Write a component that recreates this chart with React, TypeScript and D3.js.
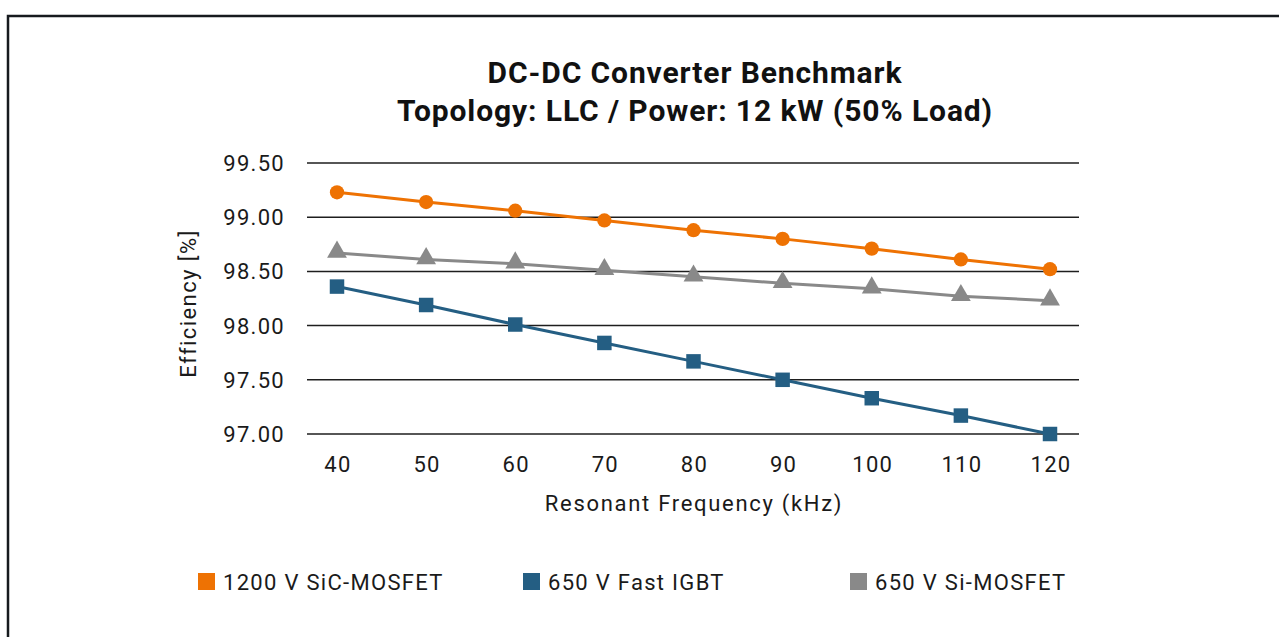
import { useEffect, useRef } from 'react'
import * as d3 from 'd3'

const W = 1279, H = 637
const FONT = 'Roboto, "Noto Sans", sans-serif'

const freqs = [40, 50, 60, 70, 80, 90, 100, 110, 120]
const sicMosfet = [99.23, 99.14, 99.06, 98.97, 98.88, 98.80, 98.71, 98.61, 98.52]
const fastIgbt = [98.36, 98.19, 98.01, 97.84, 97.67, 97.50, 97.33, 97.17, 97.00]
const siMosfet = [98.67, 98.61, 98.57, 98.51, 98.45, 98.39, 98.34, 98.27, 98.23]
const yTicks = [97.0, 97.5, 98.0, 98.5, 99.0, 99.5]

const titleLines = ['DC-DC Converter Benchmark', 'Topology: LLC / Power: 12 kW (50% Load)']

const series = [
  { name: '1200 V SiC-MOSFET', values: sicMosfet, color: '#ee7203', shape: 'circle' },
  { name: '650 V Fast IGBT', values: fastIgbt, color: '#245e83', shape: 'square' },
  { name: '650 V Si-MOSFET', values: siMosfet, color: '#898989', shape: 'triangle' },
]

export default function App() {
  const svgRef = useRef<SVGSVGElement>(null)

  useEffect(() => {
    const svg = d3.select(svgRef.current!)
    svg.selectAll('*').remove()

    // frame
    svg.append('rect').attr('x', 8).attr('y', 16).attr('width', W).attr('height', H)
      .attr('fill', '#fff').attr('stroke', '#161a1e').attr('stroke-width', 2.5)

    // title
    titleLines.forEach((t, i) => {
      svg.append('text').attr('x', 695).attr('y', 83 + i * 38)
        .attr('text-anchor', 'middle').attr('font-family', FONT)
        .attr('font-weight', 700).attr('font-size', 30).attr('letter-spacing', 0.9)
        .attr('fill', '#111')
        .text(t)
    })

    const gx0 = 307, gx1 = 1079
    const x = d3.scaleLinear().domain([40, 120]).range([337, 1050])
    const y = d3.scaleLinear().domain([97, 99.5]).range([434, 163])

    const txt = (sel: d3.Selection<SVGTextElement, unknown, null, undefined>, ls = 1.3) =>
      sel.attr('font-family', FONT).attr('font-size', 22).attr('letter-spacing', ls)
        .attr('fill', '#1a1a1a')

    // gridlines + y labels
    yTicks.forEach(v => {
      svg.append('line').attr('x1', gx0).attr('x2', gx1)
        .attr('y1', y(v)).attr('y2', y(v))
        .attr('stroke', '#1e1e1e').attr('stroke-width', 1.5)
      txt(svg.append('text').attr('x', 285).attr('y', y(v) + 8)
        .attr('text-anchor', 'end'))
        .text(v.toFixed(2))
    })

    // x labels
    freqs.forEach(f => {
      txt(svg.append('text').attr('x', x(f) + 1).attr('y', 472)
        .attr('text-anchor', 'middle'))
        .text(f)
    })

    // axis titles
    txt(svg.append('text').attr('x', 694).attr('y', 511)
      .attr('text-anchor', 'middle'), 1.7)
      .text('Resonant Frequency (kHz)')
    txt(svg.append('text')
      .attr('transform', `translate(196,${y(98.25) + 5}) rotate(-90)`)
      .attr('text-anchor', 'middle'), 1.4)
      .text('Efficiency [%]')

    const line = d3.line<number>().x((_, i) => x(freqs[i])).y(v => y(v))

    // draw series in reference stacking: gray, blue, orange on top
    ;[series[2], series[1], series[0]].forEach(s => {
      svg.append('path').datum(s.values)
        .attr('fill', 'none').attr('stroke', s.color).attr('stroke-width', 3)
        .attr('d', line)
      const sym = s.shape === 'circle' ? d3.symbolCircle
        : s.shape === 'square' ? d3.symbolSquare : d3.symbolTriangle
      const size = s.shape === 'circle' ? 160 : s.shape === 'square' ? 210 : 170
      svg.append('g').selectAll('path').data(s.values).join('path')
        .attr('transform', (v, i) => `translate(${x(freqs[i])},${y(v) - (s.shape === 'triangle' ? 1 : 0)})`)
        .attr('d', d3.symbol().type(sym).size(size)())
        .attr('fill', s.color)
    })

    // legend
    const legendX = [198, 523, 850]
    series.forEach((s, i) => {
      svg.append('rect').attr('x', legendX[i]).attr('y', 573)
        .attr('width', 17).attr('height', 17).attr('fill', s.color)
      txt(svg.append('text').attr('x', legendX[i] + 25).attr('y', 590))
        .text(s.name)
    })
  }, [])

  return (
    <svg ref={svgRef} width={W} height={H}
      style={{ position: 'absolute', left: 0, top: 0, display: 'block' }} />
  )
}
